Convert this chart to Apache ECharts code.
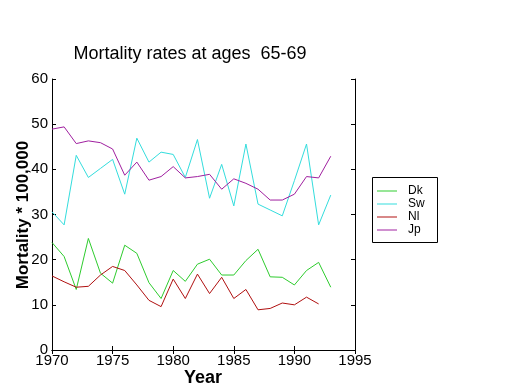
<!DOCTYPE html>
<html><head><meta charset="utf-8">
<script src="https://cdn.jsdelivr.net/npm/echarts@6/dist/echarts.min.js"></script>
<style>html,body{margin:0;padding:0;background:#fff}#c{width:520px;height:390px}</style>
</head><body><div id="c"></div>
<script>
const years = [1970,1971,1972,1973,1974,1975,1976,1977,1978,1979,1980,1981,1982,1983,1984,1985,1986,1987,1988,1989,1990,1991,1992,1993];
const dk = [23.8,20.7,13.4,24.7,17.0,14.8,23.2,21.4,14.9,11.4,17.6,15.2,19.0,20.1,16.6,16.6,19.8,22.3,16.2,16.1,14.4,17.6,19.4,13.9];
const sw = [30.6,27.7,43.1,38.2,40.2,42.2,34.5,46.9,41.6,43.8,43.3,38.2,46.6,33.6,41.1,31.9,45.6,32.3,31.0,29.7,37.5,45.6,27.7,34.3];
const nl = [16.4,15.1,13.9,14.1,16.6,18.5,17.6,14.4,11.0,9.6,15.7,11.4,16.8,12.5,16.1,11.4,13.4,8.9,9.2,10.4,10.0,11.7,10.2];
const jp = [48.9,49.4,45.7,46.3,45.9,44.5,38.7,41.6,37.6,38.4,40.6,38.1,38.4,38.9,35.6,37.9,36.9,35.6,33.2,33.2,34.5,38.4,38.1,42.9];
const seriesNames = ['Dk','Sw','Nl','Jp'];
const colors = ['#2ecc2e','#33dddd','#b01010','#a020a0'];
const xTicks = [1970,1975,1980,1985,1990,1995];
const yTicks = [0,10,20,30,40,50,60];

const FONT = '"Liberation Sans Narrow","Liberation Sans",Arial,sans-serif';
const toPairs = arr => arr.map((v,i)=>[years[i], v]);
const allData = [dk, sw, nl, jp];

const chart = echarts.init(document.getElementById('c'), null, {renderer:'canvas'});
const axisCommon = {
  axisLine:{show:true, lineStyle:{color:'#000', width:1}},
  axisTick:{show:true, inside:true, length:4, lineStyle:{color:'#000'}},
  splitLine:{show:false}
};
chart.setOption({
  animation:false,
  backgroundColor:'#fff',
  grid:{left:52, right:165, top:79, bottom:40, containLabel:false},
  xAxis:[
    Object.assign({type:'value', min:xTicks[0], max:xTicks[xTicks.length-1], interval:5, position:'bottom',
      axisLabel:{color:'#000', fontFamily:FONT, fontSize:15, margin:3, formatter:v=>String(v)}}, axisCommon),
    Object.assign({type:'value', min:xTicks[0], max:xTicks[xTicks.length-1], interval:5, position:'top',
      axisLabel:{show:false}}, axisCommon)
  ],
  yAxis:[
    Object.assign({type:'value', min:yTicks[0], max:yTicks[yTicks.length-1], interval:10, position:'left',
      axisLabel:{color:'#000', fontFamily:FONT, fontSize:15, margin:4}}, axisCommon),
    Object.assign({type:'value', min:yTicks[0], max:yTicks[yTicks.length-1], interval:10, position:'right',
      axisLabel:{show:false}}, axisCommon)
  ],
  legend:{
    orient:'vertical', left:377, top:185, itemWidth:20, itemHeight:1, itemGap:1, icon:'rect',
    data:seriesNames.map((n,i)=>({name:n, icon:'rect', itemStyle:{color:colors[i]}})), padding:0,
    textStyle:{color:'#000', fontFamily:'"Liberation Sans",Arial,sans-serif', fontSize:12, lineHeight:12, padding:[0,0,0,6]}
  },
  graphic:[
    {type:'rect', shape:{x:372.5, y:177.5, width:65, height:65}, style:{fill:'none', stroke:'#000', lineWidth:1}, z:-1},
    {type:'text', style:{text:'Mortality rates at ages  65-69', textAlign:'center', textVerticalAlign:'middle', font:'18px "Liberation Sans", Arial, sans-serif', fill:'#000'}, x:190, y:54},
    {type:'text', style:{text:'Mortality * 100,000', textAlign:'center', textVerticalAlign:'middle', font:'bold 17px "Liberation Sans", Arial, sans-serif', fill:'#000'}, x:23, y:215, rotation:Math.PI/2},
    {type:'text', style:{text:'Year', textAlign:'center', textVerticalAlign:'middle', font:'bold 18px "Liberation Sans", Arial, sans-serif', fill:'#000'}, x:203, y:378}
  ],
  series: seriesNames.map((n,i)=>({
    name:n, type:'line', data:toPairs(allData[i]), symbol:'none', showSymbol:false,
    lineStyle:{color:colors[i], width:1}, itemStyle:{color:colors[i]}, smooth:false
  }))
});
</script></body></html>
